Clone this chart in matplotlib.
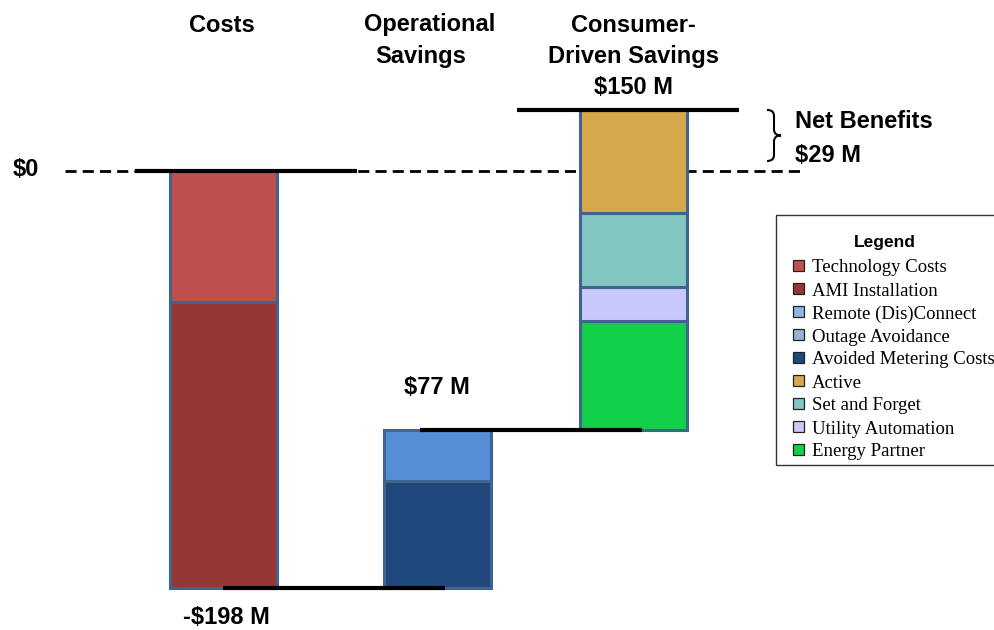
import matplotlib
matplotlib.use("Agg")
import matplotlib.pyplot as plt
from matplotlib.patches import Rectangle, PathPatch
from matplotlib.path import Path

# ---------------- data ----------------
groups = ["Costs", "Operational\nSavings", "Consumer-\nDriven Savings"]
cost_names = ["Technology Costs", "AMI Installation"]
cost_values = [62, 136]                     # $M, drawn downward from 0
oper_names = ["Avoided Metering Costs", "Outage Avoidance", "Remote (Dis)Connect"]
oper_values = [51, 0, 24]                   # $M, bottom to top
cons_names = ["Energy Partner", "Utility Automation", "Set and Forget", "Active"]
cons_values = [52, 16, 35, 49]              # $M, bottom to top
label_costs = "-$198 M"
label_oper = "$77 M"
label_cons = "$150 M"
label_net = "$29 M"
legend_labels = ["Technology Costs", "AMI Installation", "Remote (Dis)Connect",
                 "Outage Avoidance", "Avoided Metering Costs", "Active",
                 "Set and Forget", "Utility Automation", "Energy Partner"]

# ---------------- styles ----------------
bar_colors = {
    "Technology Costs": "#C0504D", "AMI Installation": "#953735",
    "Remote (Dis)Connect": "#558ED5", "Outage Avoidance": "#8EB4E3",
    "Avoided Metering Costs": "#1F497D", "Active": "#D6A84C",
    "Set and Forget": "#83C6C2", "Utility Automation": "#C8C9FA",
    "Energy Partner": "#12D049",
}
legend_colors = dict(bar_colors)
legend_colors["Remote (Dis)Connect"] = "#8DB4E2"
legend_colors["Outage Avoidance"] = "#95B3D7"
edge = "#41648F"

W, H = 995, 630
fig = plt.figure(figsize=(W / 100, H / 100), dpi=100)
ax = fig.add_axes([0, 0, 1, 1])
ax.axis("off")
scale = 417 / 198.0          # px per $M
zero_px = 171
ax.set_xlim(0, W)
ax.set_ylim(-(H - zero_px) / scale, zero_px / scale)

def py(p):  # pixel row -> data y
    return (zero_px - p) / scale

def fx(x):
    return x / W

def fy(y):
    return 1 - y / H

xpos = [223.5, 437, 633]
bw = 107

# zero dashed line
ax.plot([65, 800], [0, 0], color="black", lw=2.0, ls=(0, (4, 2.2)), zorder=1)

# Costs bar (downward)
top = 0
for n, v in zip(cost_names, cost_values):
    ax.bar(xpos[0], -v, bottom=top, width=bw, color=bar_colors[n],
           edgecolor=edge, linewidth=2.2, zorder=2)
    top -= v
costs_total = sum(cost_values)

# Operational savings
base = -costs_total
for n, v in zip(oper_names, oper_values):
    if v > 0:
        ax.bar(xpos[1], v, bottom=base, width=bw, color=bar_colors[n],
               edgecolor=edge, linewidth=2.2, zorder=2)
    base += v
oper_top = base

# Consumer-driven savings
base = oper_top
for n, v in zip(cons_names, cons_values):
    ax.bar(xpos[2], v, bottom=base, width=bw, color=bar_colors[n],
           edgecolor=edge, linewidth=2.2, zorder=2)
    base += v
net = base

# connector lines
conn_start = [135, 223, 420, 517]
conn_y = [0, -costs_total, oper_top, net]
for x0, yv in zip(conn_start, conn_y):
    ax.plot([x0, x0 + 222], [yv, yv], color="black", lw=3, solid_capstyle="butt", zorder=4)

# brace for net benefits
bx0, bx1, bx2 = 767, 774, 781
yt, yb = net, py(161)
ym = (yt + yb) / 2
dy = 6 / scale
verts = [(bx0, yt), (bx1, yt), (bx1, yt - dy), (bx1, ym + dy), (bx1, ym), (bx2, ym),
         (bx1, ym), (bx1, ym - dy), (bx1, yb + dy), (bx1, yb), (bx0, yb)]
codes = [Path.MOVETO, Path.CURVE3, Path.CURVE3, Path.LINETO, Path.CURVE3, Path.CURVE3,
         Path.CURVE3, Path.CURVE3, Path.LINETO, Path.CURVE3, Path.CURVE3]
ax.add_patch(PathPatch(Path(verts, codes), fill=False, lw=1.5, ec="black", zorder=4))

# texts
sans = ["Liberation Sans", "DejaVu Sans"]
serif = ["Liberation Serif", "DejaVu Serif"]
hb = dict(family=sans, weight="bold", fontsize=17, ha="center", va="center", color="black")
fig.text(fx(222), fy(25), "Costs", **hb)
fig.text(fx(430), fy(25), "Operational", **hb)
fig.text(fx(421), fy(57), "Savings", **hb)
fig.text(fx(633), fy(25), "Consumer-", **hb)
fig.text(fx(633), fy(57), "Driven Savings", **hb)
fig.text(fx(633), fy(88), label_cons, **hb)
fig.text(fx(26), fy(170), "$0", **hb)
fig.text(fx(437), fy(388), label_oper, **hb)
fig.text(fx(226), fy(618), label_costs, **hb)
hl = dict(hb, ha="left")
fig.text(fx(795), fy(122), "Net Benefits", **hl)
fig.text(fx(795), fy(156), label_net, **hl)

# legend (manual)
fig.patches.append(Rectangle((fx(776), fy(465)), fx(1000 - 776), (465 - 215) / H,
                             transform=fig.transFigure, facecolor="white",
                             edgecolor="#333333", lw=1.0, zorder=5))
fig.text(fx(885), fy(242), "Legend", family=sans, weight="bold", fontsize=12.5,
         ha="center", va="center", zorder=6)
row0, drow = 267, 23.0
for i, lab in enumerate(legend_labels):
    yc = row0 + i * drow
    fig.patches.append(Rectangle((fx(793), fy(yc + 4)), 11 / W, 11 / H,
                                 transform=fig.transFigure,
                                 facecolor=legend_colors[lab], edgecolor="#222222",
                                 lw=0.9, zorder=6))
    fig.text(fx(812), fy(yc + 1), lab, family=serif, fontsize=13.5,
             ha="left", va="center", zorder=6)

fig.savefig("out.png", dpi=100)
